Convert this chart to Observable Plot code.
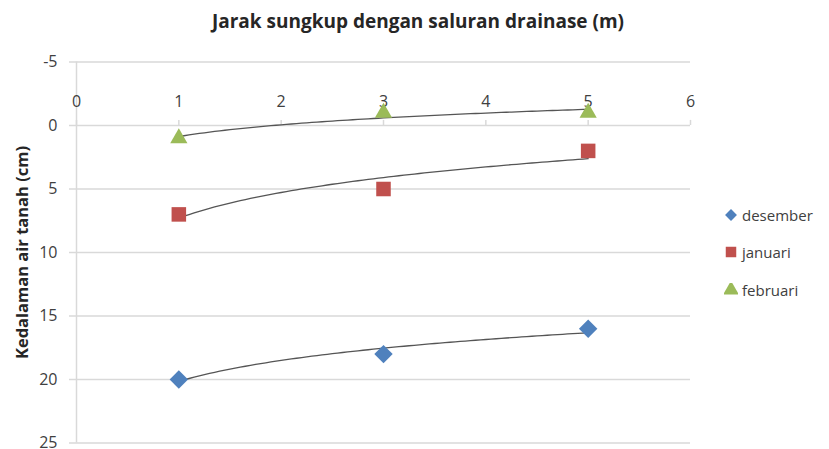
<!DOCTYPE html>
<html><head><meta charset="utf-8">
<script src="https://cdn.jsdelivr.net/npm/d3@7"></script>
<script src="https://cdn.jsdelivr.net/npm/@observablehq/plot@0.6"></script>
<style>
body{margin:0;background:#fff;font-family:"Open Sans",sans-serif;}
#wrap{position:relative;width:829px;height:449px;overflow:hidden;}
#title{width:836px;height:40px;line-height:42px;text-align:center;font-weight:bold;font-size:19px;color:#262626;}
#legend{position:absolute;left:724px;top:196px;font-size:15px;color:#404040;}
#legend div{height:37.5px;display:flex;align-items:center;}
#legend svg{margin-right:4px;}
</style></head>
<body><div id="wrap"><div id="title">Jarak sungkup dengan saluran drainase (m)</div><div id="chart"></div><div id="legend"></div></div>
<script>
const xValues = [1, 3, 5];
const seriesNames = ["desember", "januari", "februari"];
const desember = [20, 18, 16];
const januari = [7, 5, 2];
const februari = [1, -1, -1];
const xTicks = [0, 1, 2, 3, 4, 5, 6];
const yTicks = [-5, 0, 5, 10, 15, 20, 25];
const colors = ["#4F81BD", "#C0504D", "#9BBB59"];
const symbols = ["diamond2", "square", "triangle"];
const yLabel = "Kedalaman air tanah (cm)";

const seriesValues = [desember, januari, februari];
const points = [];
seriesNames.forEach((s, i) => xValues.forEach((x, j) => points.push({series: s, x, y: seriesValues[i][j]})));

// logarithmic trend lines (least squares of y on ln x)
const trend = [];
seriesNames.forEach((s, i) => {
  const L = xValues.map(Math.log), Y = seriesValues[i];
  const mL = d3.mean(L), mY = d3.mean(Y);
  const b = d3.sum(L.map((l, k) => (l - mL) * (Y[k] - mY))) / d3.sum(L.map(l => (l - mL) ** 2));
  const a = mY - b * mL;
  d3.range(1, 5.0001, 0.05).forEach(x => trend.push({series: s, x, y: a + b * Math.log(x)}));
});

const grid = "#d9d9d9";
const sizes = {desember: 8.3, januari: 8.2, februari: 6.4};
const chart = Plot.plot({
  width: 829, height: 409,
  marginLeft: 76, marginRight: 139, marginTop: 21.5, marginBottom: 6.5,
  style: {fontFamily: "Open Sans, sans-serif", background: "#fff"},
  x: {domain: [0, 6], axis: null},
  y: {domain: [-5, 25], reverse: true, axis: null},
  symbol: {domain: seriesNames, range: symbols},
  color: {domain: seriesNames, range: colors},
  marks: [
    Plot.gridY(yTicks, {stroke: grid, strokeOpacity: 1, strokeWidth: 1.5}),
    Plot.axisY({ticks: yTicks, tickFormat: d => String(d), tickSize: 7, tickPadding: 12, stroke: grid, strokeOpacity: 1, strokeWidth: 1.5, fill: "#404040", fontSize: 16, label: null}),
    Plot.ruleX([0], {stroke: grid, strokeWidth: 1.5}),
    Plot.ruleX(xTicks, {x: d => d, y1: 0, y2: -0.4, stroke: grid, strokeWidth: 1.5}),
    Plot.text(xTicks, {x: d => d, y: 0, dy: -24, text: d => String(d), fill: "#404040", fontSize: 16}),
    Plot.text([yLabel], {frameAnchor: "left", textAnchor: "middle", rotate: -90, dx: -54, fontWeight: "bold", fontSize: 16.5, fill: "#262626"}),
    Plot.line(trend, {x: "x", y: "y", z: "series", stroke: "#555", strokeWidth: 1.3}),
    ...seriesNames.map(s => Plot.dot(points.filter(p => p.series === s), {x: "x", y: "y", symbol: "series", fill: "series", r: sizes[s], stroke: null}))
  ]
});
document.getElementById("chart").appendChild(chart);

const legend = d3.select("#legend");
seriesNames.forEach((s, i) => {
  const row = legend.append("div");
  const svg = row.append("svg").attr("width", 14).attr("height", 14);
  svg.append("path").attr("transform", "translate(7,7)")
    .attr("d", d3.symbol(i === 0 ? d3.symbolDiamond2 : i === 1 ? d3.symbolSquare : d3.symbolTriangle, i === 0 ? 90 : 110)())
    .attr("fill", colors[i]);
  row.append("span").text(s);
});
</script></body></html>
